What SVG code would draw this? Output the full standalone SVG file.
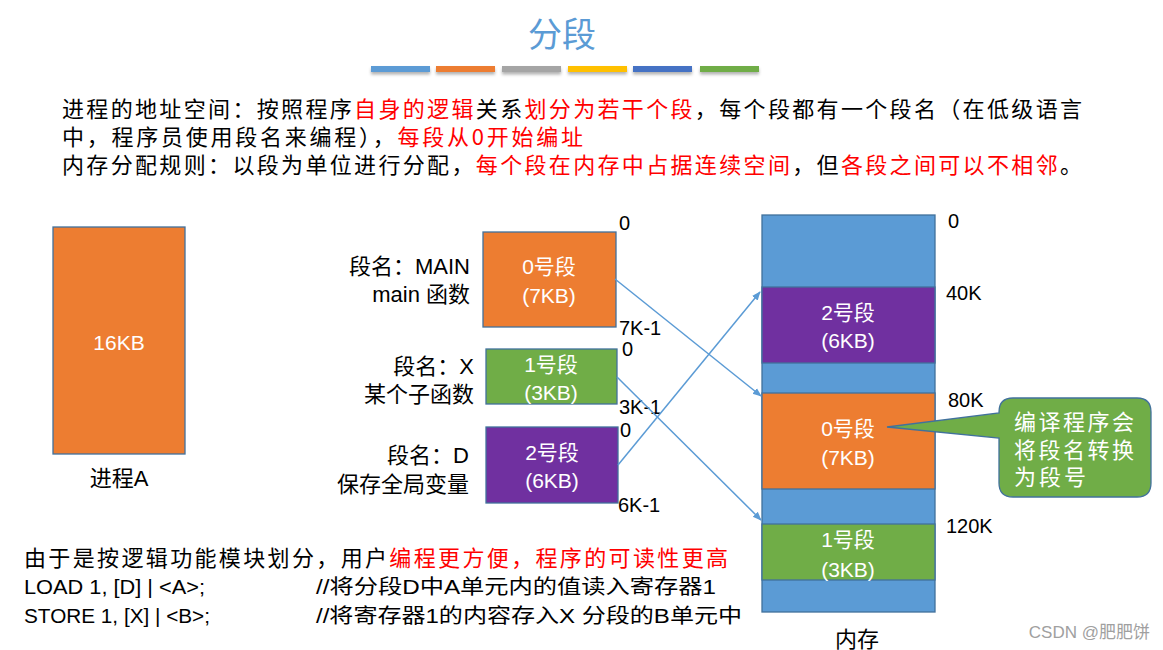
<svg xmlns="http://www.w3.org/2000/svg" width="1163" height="650" viewBox="0 0 1163 650">
<style>
text{font-family:"Liberation Sans","Noto Sans CJK SC",sans-serif;}
.cjk{font-family:"Noto Sans CJK SC","Liberation Sans",sans-serif;}
.hdr{font-size:22px;fill:#000;}
.red{fill:#FF0000;}
.lbl{font-size:22px;fill:#000;}
.wt{font-size:21px;fill:#fff;text-anchor:middle;}
.addr{font-size:20px;fill:#000;}
.box{stroke:#41719C;stroke-width:1.3;}
.org{fill:#ED7D31;}
.grn{fill:#70AD47;}
.pur{fill:#7030A0;}
.blu{fill:#5B9BD5;}
.conn{stroke:#5B9BD5;stroke-width:1.5;fill:none;marker-end:url(#ah);}
</style>
<defs>
<marker id="ah" viewBox="0 0 10 10" refX="9" refY="5" markerWidth="9" markerHeight="9" markerUnits="userSpaceOnUse" orient="auto">
<path d="M0,1 L10,5 L0,9 Z" fill="#5B9BD5"/>
</marker>
<filter id="sh" x="-10%" y="-50%" width="120%" height="250%">
<feDropShadow dx="0" dy="2.5" stdDeviation="1.5" flood-color="#000" flood-opacity="0.3"/>
</filter>
</defs>
<rect width="1163" height="650" fill="#fff"/>

<g id="title">
<text x="562" y="47" class="cjk" font-size="34" fill="#5B9BD5" text-anchor="middle">分段</text>
<g filter="url(#sh)">
<rect x="371" y="66" width="59" height="6" fill="#5B9BD5"/>
<rect x="436" y="66" width="59" height="6" fill="#ED7D31"/>
<rect x="502" y="66" width="59" height="6" fill="#A5A5A5"/>
<rect x="568" y="66" width="59" height="6" fill="#FFC000"/>
<rect x="633" y="66" width="59" height="6" fill="#4472C4"/>
<rect x="700" y="66" width="59" height="6" fill="#70AD47"/>
</g>
</g>

<g id="header-text" class="hdr cjk">
<text x="62" y="117" textLength="1020" lengthAdjust="spacing" class="cjk">进程的地址空间：按照程序<tspan class="red">自身的逻辑</tspan>关系<tspan class="red">划分为若干个段</tspan>，每个段都有一个段名（在低级语言</text>
<text x="62" y="145" textLength="521" lengthAdjust="spacing" class="cjk">中，程序员使用段名来编程），<tspan class="red">每段从0开始编址</tspan></text>
<text x="62" y="173" textLength="1020" lengthAdjust="spacing" class="cjk">内存分配规则：以段为单位进行分配，<tspan class="red">每个段在内存中占据连续空间</tspan>，但<tspan class="red">各段之间可以不相邻</tspan>。</text>
</g>

<g id="process-A">
<rect x="53" y="227" width="132" height="227" class="box org"/>
<text x="119" y="350" class="wt">16KB</text>
<text x="119" y="486" class="lbl" text-anchor="middle">进程A</text>
</g>

<g id="seg0">
<rect x="483" y="232" width="133" height="95" class="box org"/>
<text x="549" y="274" class="wt">0号段</text>
<text x="549" y="303" class="wt">(7KB)</text>
<text x="470" y="274" class="lbl" text-anchor="end">段名：MAIN</text>
<text x="470" y="302" class="lbl" text-anchor="end">main 函数</text>
<text x="619" y="230" class="addr">0</text>
<text x="619" y="335" class="addr">7K-1</text>
</g>

<g id="seg1">
<rect x="486" y="349" width="131" height="55" class="box grn"/>
<text x="551" y="372" class="wt">1号段</text>
<text x="551" y="400" class="wt">(3KB)</text>
<text x="474" y="374" class="lbl" text-anchor="end">段名：X</text>
<text x="474" y="402" class="lbl" text-anchor="end">某个子函数</text>
<text x="622" y="356" class="addr">0</text>
<text x="619" y="414" class="addr">3K-1</text>
</g>

<g id="seg2">
<rect x="486" y="427" width="132" height="76" class="box pur"/>
<text x="552" y="460" class="wt">2号段</text>
<text x="552" y="488" class="wt">(6KB)</text>
<text x="469" y="463" class="lbl" text-anchor="end">段名：D</text>
<text x="469" y="492" class="lbl" text-anchor="end">保存全局变量</text>
<text x="620" y="437" class="addr">0</text>
<text x="618" y="512" class="addr">6K-1</text>
</g>

<g id="memory">
<rect x="762" y="215" width="173" height="397" class="box blu"/>
<rect x="762" y="287" width="173" height="76" class="box pur"/>
<text x="848" y="320" class="wt">2号段</text>
<text x="848" y="348" class="wt">(6KB)</text>
<rect x="762" y="393" width="173" height="96" class="box org"/>
<text x="848" y="436" class="wt">0号段</text>
<text x="848" y="465" class="wt">(7KB)</text>
<rect x="762" y="524" width="173" height="56" class="box grn"/>
<text x="848" y="547" class="wt">1号段</text>
<text x="848" y="577" class="wt">(3KB)</text>
<text x="948" y="228" class="addr" font-size="21">0</text>
<text x="946" y="300" class="addr" font-size="21">40K</text>
<text x="948" y="407" class="addr" font-size="21">80K</text>
<text x="946" y="533" class="addr" font-size="21">120K</text>
<text x="857" y="647" class="lbl" text-anchor="middle">内存</text>
</g>

<g id="callout">
<path d="M1013,398 H1137 Q1151,398 1151,412 V483 Q1151,497 1137,497 H1013 Q999,497 999,483 V438 L887,427 L999,413 V412 Q999,398 1013,398 Z" fill="#70AD47" stroke="#41719C" stroke-width="1.3"/>
<text x="1014" y="430" class="cjk" font-size="22" fill="#fff" textLength="120" lengthAdjust="spacing">编译程序会</text>
<text x="1014" y="458" class="cjk" font-size="22" fill="#fff" textLength="120" lengthAdjust="spacing">将段名转换</text>
<text x="1014" y="485" class="cjk" font-size="22" fill="#fff" textLength="72" lengthAdjust="spacing">为段号</text>
</g>

<g id="connectors">
<line x1="615" y1="279" x2="761" y2="396" class="conn"/>
<line x1="617" y1="377" x2="761" y2="520" class="conn"/>
<line x1="618" y1="465" x2="760" y2="292" class="conn"/>
</g>

<g id="footer-text">
<text x="24" y="566" class="hdr cjk" textLength="704" lengthAdjust="spacing">由于是按逻辑功能模块划分，用户<tspan class="red">编程更方便，程序的可读性更高</tspan></text>
<text x="24" y="594" font-size="20" textLength="181" lengthAdjust="spacingAndGlyphs">LOAD 1, [D] | &lt;A&gt;;</text>
<text x="316" y="594" font-size="20" textLength="400" lengthAdjust="spacingAndGlyphs">//将分段D中A单元内的值读入寄存器1</text>
<text x="24" y="623" font-size="20" textLength="186" lengthAdjust="spacingAndGlyphs">STORE 1, [X] | &lt;B&gt;;</text>
<text x="316" y="623" font-size="20" textLength="426" lengthAdjust="spacingAndGlyphs">//将寄存器1的内容存入X 分段的B单元中</text>
</g>

<g id="watermark">
<text x="1150" y="638" font-size="17" fill="#A0A0A0" text-anchor="end">CSDN @肥肥饼</text>
</g>
</svg>
